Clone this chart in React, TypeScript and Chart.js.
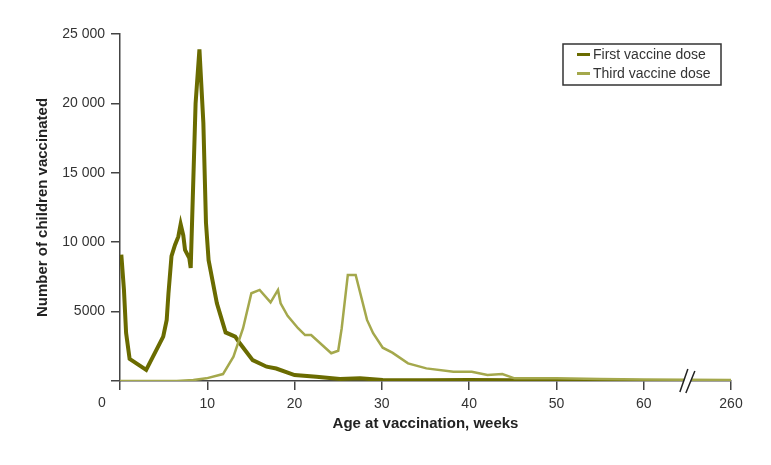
import React, { useEffect, useRef } from "react";
import { Chart, registerables } from "chart.js";

Chart.register(...registerables);

// Age in weeks (axis position 70 stands for week 260, after the axis break)
const firstWeeks = [0.15, 0.45, 0.7, 1.1, 3.0, 4.95, 5.35, 5.55, 5.9, 6.3, 6.68, 6.95, 7.25, 7.45, 7.94, 8.1, 8.66, 9.1, 9.55, 9.85, 10.15, 11.1, 12.1, 13.2, 13.75, 15.2, 16.8, 17.9, 20.0, 22.5, 25.2, 27.5, 30.1, 35, 40, 45, 50, 55, 60, 70];
const firstValues = [9100, 6600, 3450, 1600, 800, 3200, 4400, 6300, 9000, 9800, 10400, 11300, 10500, 9450, 8850, 8150, 20000, 23900, 18600, 11400, 8700, 5600, 3500, 3200, 2700, 1500, 1030, 900, 430, 300, 150, 190, 70, 50, 80, 50, 20, 10, 0, 0];

const thirdWeeks = [0, 6.5, 8.4, 9.9, 11.8, 13.0, 14.1, 15.05, 16.0, 17.25, 18.1, 18.4, 19.2, 20.4, 21.2, 21.9, 24.2, 25.0, 25.4, 26.1, 27.0, 28.3, 29.0, 30.1, 31.2, 33.0, 35.1, 38.2, 40.3, 42.1, 43.8, 45.2, 50, 55, 60, 70];
const thirdValues = [0, 0, 70, 190, 500, 1750, 3800, 6320, 6560, 5670, 6560, 5600, 4700, 3800, 3310, 3310, 2000, 2180, 3800, 7640, 7640, 4400, 3440, 2400, 2040, 1270, 910, 670, 670, 430, 500, 190, 190, 150, 100, 80];

const seriesNames = ["First vaccine dose", "Third vaccine dose"];
const seriesColors = ["#6a6b00", "#a4a84c"];
const xTickLabels: Record<number, string> = { 0: "", 10: "10", 20: "20", 30: "30", 40: "40", 50: "50", 60: "60", 70: "260" };
const breakAt = 65;

const FONT = "'Liberation Sans', Arial, sans-serif";
const AXIS = "#444444";
const TEXT = "#333333";

const extrasPlugin = {
  id: "extras",
  afterDatasetsDraw(chart: any) {
    const { ctx, chartArea, scales } = chart;
    const x = scales.x;
    const y = scales.y;
    // axis break
    const bx = x.getPixelForValue(breakAt);
    const by = y.getPixelForValue(0);
    ctx.save();
    ctx.fillStyle = "#ffffff";
    ctx.beginPath();
    ctx.moveTo(bx - 7, by + 11);
    ctx.lineTo(bx + 1, by - 12);
    ctx.lineTo(bx + 7, by - 10);
    ctx.lineTo(bx - 1, by + 12);
    ctx.closePath();
    ctx.fill();
    ctx.strokeStyle = "#222";
    ctx.lineWidth = 1.5;
    ctx.beginPath();
    ctx.moveTo(bx - 7.5, by + 11);
    ctx.lineTo(bx + 0.5, by - 12);
    ctx.moveTo(bx - 1.5, by + 12);
    ctx.lineTo(bx + 7.5, by - 10);
    ctx.stroke();

    // shared origin label
    ctx.fillStyle = TEXT;
    ctx.font = `14px ${FONT}`;
    ctx.textAlign = "center";
    ctx.textBaseline = "middle";
    ctx.fillText("0", chartArea.left - 18, by + 22);

    // legend
    const lw = 158;
    const lh = 41;
    const lx = chartArea.right - 10 - lw;
    const ly = chartArea.top + 10;
    ctx.strokeStyle = "#333";
    ctx.lineWidth = 1.5;
    ctx.strokeRect(lx, ly, lw, lh);
    ctx.font = `14px ${FONT}`;
    ctx.textAlign = "left";
    seriesNames.forEach((name, i) => {
      const yy = ly + 10.5 + i * 19;
      ctx.strokeStyle = seriesColors[i];
      ctx.lineWidth = 3;
      ctx.beginPath();
      ctx.moveTo(lx + 14, yy);
      ctx.lineTo(lx + 27, yy);
      ctx.stroke();
      ctx.fillStyle = TEXT;
      ctx.fillText(name, lx + 30, yy + 1);
    });
    ctx.restore();
  },
};

export default function App() {
  const ref = useRef<HTMLCanvasElement | null>(null);
  useEffect(() => {
    if (!ref.current) return;
    const chart = new Chart(ref.current, {
      type: "line",
      data: {
        datasets: [
          {
            label: seriesNames[0],
            data: firstWeeks.map((w, i) => ({ x: w, y: firstValues[i] })),
            borderColor: seriesColors[0],
            backgroundColor: seriesColors[0],
            borderWidth: 4,
            pointRadius: 0,
            tension: 0,
            order: 1,
          },
          {
            label: seriesNames[1],
            data: thirdWeeks.map((w, i) => ({ x: w, y: thirdValues[i] })),
            borderColor: seriesColors[1],
            backgroundColor: seriesColors[1],
            borderWidth: 2.5,
            pointRadius: 0,
            tension: 0,
            order: 0,
          },
        ],
      },
      options: {
        responsive: false,
        animation: false,
        layout: { padding: { top: 34, right: 40, left: 0, bottom: 0 } },
        plugins: { legend: { display: false }, tooltip: { enabled: false } },
        scales: {
          x: {
            type: "linear",
            min: 0,
            max: 70,
            afterFit: (s: any) => { s.height = 84; },
            ticks: {
              stepSize: 10,
              color: TEXT,
              font: { family: FONT, size: 14 },
              padding: 6,
              maxRotation: 0,
              autoSkip: false,
              callback: (v: any) => xTickLabels[v] ?? "",
            },
            grid: { drawOnChartArea: false, drawTicks: true, tickLength: 9, color: AXIS, lineWidth: 1.5 },
            border: { color: AXIS, width: 1.5 },
            title: {
              display: true,
              text: "Age at vaccination, weeks",
              color: "#222",
              font: { family: FONT, size: 15, weight: "bold" },
              padding: { top: 0, bottom: 32 },
            },
          },
          y: {
            min: 0,
            max: 25000,
            afterFit: (s: any) => { s.width = 120; },
            ticks: {
              stepSize: 5000,
              color: TEXT,
              font: { family: FONT, size: 14 },
              padding: 6,
              callback: (v: any) => {
                const n = Number(v);
                if (n === 0) return "";
                if (n >= 10000) return `${Math.floor(n / 1000)} ${String(n % 1000).padStart(3, "0")}`;
                return String(n);
              },
            },
            grid: { drawOnChartArea: false, drawTicks: true, tickLength: 9, color: AXIS, lineWidth: 1.5 },
            border: { color: AXIS, width: 1.5 },
            title: {
              display: true,
              text: "Number of children vaccinated",
              color: "#222",
              font: { family: FONT, size: 15, weight: "bold" },
              padding: { top: 34, bottom: 0 },
            },
          },
        },
      },
      plugins: [extrasPlugin],
    });
    return () => chart.destroy();
  }, []);
  return (
    <div style={{ position: "fixed", left: 0, top: 0, width: 771, height: 465, background: "#fff" }}>
      <canvas ref={ref} width={771} height={465} />
    </div>
  );
}
